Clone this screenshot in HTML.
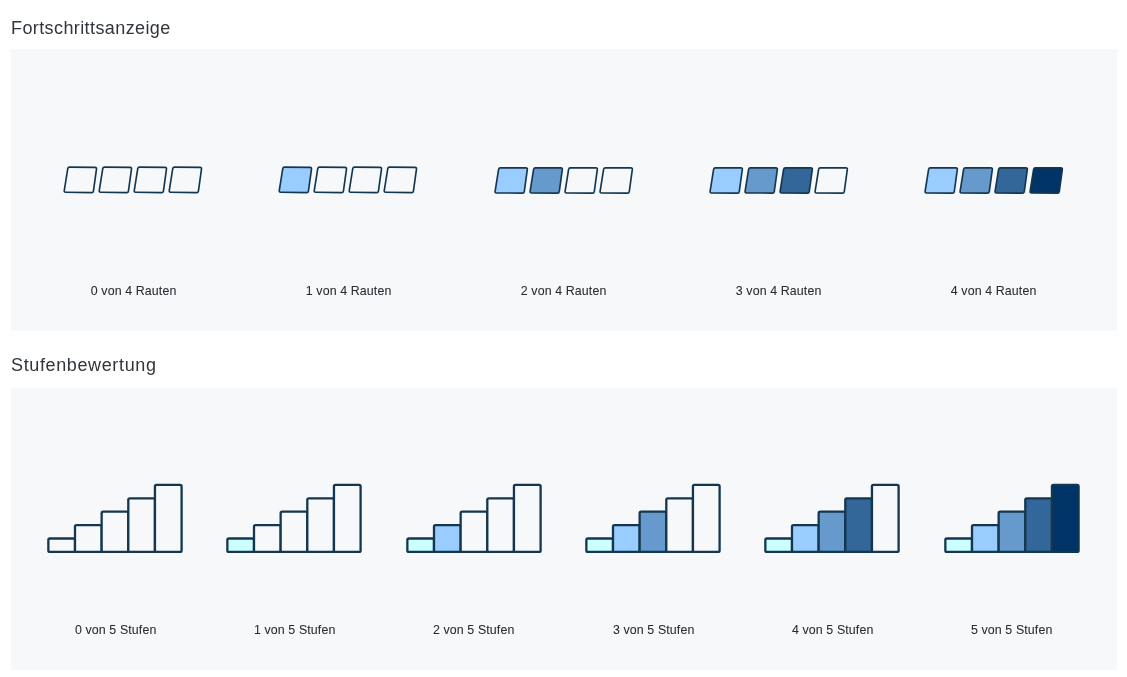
<!DOCTYPE html>
<html><head><meta charset="utf-8"><title>Ratings</title>
<style>
html,body{margin:0;padding:0;background:#fff;}
body{width:1127px;height:677px;position:relative;overflow:hidden;font-family:"Liberation Sans",sans-serif;color:#333a40;}
.panel{position:absolute;left:11px;width:1106px;height:282px;background:#f7f8fa;}
.h{position:absolute;left:11px;font-size:18px;line-height:22px;white-space:nowrap;color:#30363c;will-change:transform;}
.l{position:absolute;width:160px;text-align:center;font-size:12.4px;line-height:16px;white-space:nowrap;color:#262c32;-webkit-text-stroke:0.07px #262c32;letter-spacing:0.11px;will-change:transform;}
.l span{display:inline-block;transform-origin:50% 50%;}
svg{position:absolute;left:0;top:0;}
</style></head><body>

<div class="panel" style="top:49px"></div>
<div class="panel" style="top:388px"></div>
<div class="h" id="h1" style="top:16.65px;letter-spacing:0.4px">Fortschrittsanzeige</div>
<div class="h" id="h2" style="top:354.1px;left:10.8px;letter-spacing:0.63px">Stufenbewertung</div>
<svg width="1127" height="677" viewBox="0 0 1127 677">
<path d="M67.75 168.63 Q68.00 167.05 69.60 167.07 L95.10 167.43 Q96.70 167.45 96.48 169.03 L93.42 191.07 Q93.20 192.65 91.60 192.63 L65.60 192.22 Q64.00 192.20 64.25 190.62Z" fill="#f7f8fa" stroke="#14374f" stroke-width="1.65" stroke-linejoin="round"/>
<path d="M102.75 168.63 Q103.00 167.05 104.60 167.07 L130.10 167.43 Q131.70 167.45 131.48 169.03 L128.42 191.07 Q128.20 192.65 126.60 192.63 L100.60 192.22 Q99.00 192.20 99.25 190.62Z" fill="#f7f8fa" stroke="#14374f" stroke-width="1.65" stroke-linejoin="round"/>
<path d="M137.75 168.63 Q138.00 167.05 139.60 167.07 L165.10 167.43 Q166.70 167.45 166.48 169.03 L163.42 191.07 Q163.20 192.65 161.60 192.63 L135.60 192.22 Q134.00 192.20 134.25 190.62Z" fill="#f7f8fa" stroke="#14374f" stroke-width="1.65" stroke-linejoin="round"/>
<path d="M172.75 168.63 Q173.00 167.05 174.60 167.07 L200.10 167.43 Q201.70 167.45 201.48 169.03 L198.42 191.07 Q198.20 192.65 196.60 192.63 L170.60 192.22 Q169.00 192.20 169.25 190.62Z" fill="#f7f8fa" stroke="#14374f" stroke-width="1.65" stroke-linejoin="round"/>
<path d="M282.75 168.63 Q283.00 167.05 284.60 167.07 L310.10 167.43 Q311.70 167.45 311.48 169.03 L308.42 191.07 Q308.20 192.65 306.60 192.63 L280.60 192.22 Q279.00 192.20 279.25 190.62Z" fill="#99ccff" stroke="#14374f" stroke-width="1.65" stroke-linejoin="round"/>
<path d="M317.75 168.63 Q318.00 167.05 319.60 167.07 L345.10 167.43 Q346.70 167.45 346.48 169.03 L343.42 191.07 Q343.20 192.65 341.60 192.63 L315.60 192.22 Q314.00 192.20 314.25 190.62Z" fill="#f7f8fa" stroke="#14374f" stroke-width="1.65" stroke-linejoin="round"/>
<path d="M352.75 168.63 Q353.00 167.05 354.60 167.07 L380.10 167.43 Q381.70 167.45 381.48 169.03 L378.42 191.07 Q378.20 192.65 376.60 192.63 L350.60 192.22 Q349.00 192.20 349.25 190.62Z" fill="#f7f8fa" stroke="#14374f" stroke-width="1.65" stroke-linejoin="round"/>
<path d="M387.75 168.63 Q388.00 167.05 389.60 167.07 L415.10 167.43 Q416.70 167.45 416.48 169.03 L413.42 191.07 Q413.20 192.65 411.60 192.63 L385.60 192.22 Q384.00 192.20 384.25 190.62Z" fill="#f7f8fa" stroke="#14374f" stroke-width="1.65" stroke-linejoin="round"/>
<path d="M498.60 169.43 Q498.85 167.85 500.45 167.85 L525.95 167.90 Q527.55 167.90 527.33 169.48 L524.27 191.52 Q524.05 193.10 522.45 193.09 L496.45 192.96 Q494.85 192.95 495.10 191.37Z" fill="#99ccff" stroke="#14374f" stroke-width="1.65" stroke-linejoin="round"/>
<path d="M533.60 169.43 Q533.85 167.85 535.45 167.85 L560.95 167.90 Q562.55 167.90 562.33 169.48 L559.27 191.52 Q559.05 193.10 557.45 193.09 L531.45 192.96 Q529.85 192.95 530.10 191.37Z" fill="#6699cc" stroke="#14374f" stroke-width="1.65" stroke-linejoin="round"/>
<path d="M568.60 169.43 Q568.85 167.85 570.45 167.85 L595.95 167.90 Q597.55 167.90 597.33 169.48 L594.27 191.52 Q594.05 193.10 592.45 193.09 L566.45 192.96 Q564.85 192.95 565.10 191.37Z" fill="#f7f8fa" stroke="#14374f" stroke-width="1.65" stroke-linejoin="round"/>
<path d="M603.60 169.43 Q603.85 167.85 605.45 167.85 L630.95 167.90 Q632.55 167.90 632.33 169.48 L629.27 191.52 Q629.05 193.10 627.45 193.09 L601.45 192.96 Q599.85 192.95 600.10 191.37Z" fill="#f7f8fa" stroke="#14374f" stroke-width="1.65" stroke-linejoin="round"/>
<path d="M713.60 169.43 Q713.85 167.85 715.45 167.85 L740.95 167.90 Q742.55 167.90 742.33 169.48 L739.27 191.52 Q739.05 193.10 737.45 193.09 L711.45 192.96 Q709.85 192.95 710.10 191.37Z" fill="#99ccff" stroke="#14374f" stroke-width="1.65" stroke-linejoin="round"/>
<path d="M748.60 169.43 Q748.85 167.85 750.45 167.85 L775.95 167.90 Q777.55 167.90 777.33 169.48 L774.27 191.52 Q774.05 193.10 772.45 193.09 L746.45 192.96 Q744.85 192.95 745.10 191.37Z" fill="#6699cc" stroke="#14374f" stroke-width="1.65" stroke-linejoin="round"/>
<path d="M783.60 169.43 Q783.85 167.85 785.45 167.85 L810.95 167.90 Q812.55 167.90 812.33 169.48 L809.27 191.52 Q809.05 193.10 807.45 193.09 L781.45 192.96 Q779.85 192.95 780.10 191.37Z" fill="#336699" stroke="#14374f" stroke-width="1.65" stroke-linejoin="round"/>
<path d="M818.60 169.43 Q818.85 167.85 820.45 167.85 L845.95 167.90 Q847.55 167.90 847.33 169.48 L844.27 191.52 Q844.05 193.10 842.45 193.09 L816.45 192.96 Q814.85 192.95 815.10 191.37Z" fill="#f7f8fa" stroke="#14374f" stroke-width="1.65" stroke-linejoin="round"/>
<path d="M928.60 169.43 Q928.85 167.85 930.45 167.85 L955.95 167.90 Q957.55 167.90 957.33 169.48 L954.27 191.52 Q954.05 193.10 952.45 193.09 L926.45 192.96 Q924.85 192.95 925.10 191.37Z" fill="#99ccff" stroke="#14374f" stroke-width="1.65" stroke-linejoin="round"/>
<path d="M963.60 169.43 Q963.85 167.85 965.45 167.85 L990.95 167.90 Q992.55 167.90 992.33 169.48 L989.27 191.52 Q989.05 193.10 987.45 193.09 L961.45 192.96 Q959.85 192.95 960.10 191.37Z" fill="#6699cc" stroke="#14374f" stroke-width="1.65" stroke-linejoin="round"/>
<path d="M998.60 169.43 Q998.85 167.85 1000.45 167.85 L1025.95 167.90 Q1027.55 167.90 1027.33 169.48 L1024.27 191.52 Q1024.05 193.10 1022.45 193.09 L996.45 192.96 Q994.85 192.95 995.10 191.37Z" fill="#336699" stroke="#14374f" stroke-width="1.65" stroke-linejoin="round"/>
<path d="M1033.60 169.43 Q1033.85 167.85 1035.45 167.85 L1060.95 167.90 Q1062.55 167.90 1062.33 169.48 L1059.27 191.52 Q1059.05 193.10 1057.45 193.09 L1031.45 192.96 Q1029.85 192.95 1030.10 191.37Z" fill="#003366" stroke="#14374f" stroke-width="1.65" stroke-linejoin="round"/>
<rect x="48.35" y="538.50" width="26.65" height="13.40" rx="1.5" ry="1.5" fill="#f7f8fa" stroke="#14374f" stroke-width="2.30"/>
<rect x="75.00" y="525.10" width="26.65" height="26.80" rx="1.5" ry="1.5" fill="#f7f8fa" stroke="#14374f" stroke-width="2.30"/>
<rect x="101.65" y="511.70" width="26.65" height="40.20" rx="1.5" ry="1.5" fill="#f7f8fa" stroke="#14374f" stroke-width="2.30"/>
<rect x="128.30" y="498.30" width="26.65" height="53.60" rx="1.5" ry="1.5" fill="#f7f8fa" stroke="#14374f" stroke-width="2.30"/>
<rect x="154.95" y="484.90" width="26.65" height="67.00" rx="1.5" ry="1.5" fill="#f7f8fa" stroke="#14374f" stroke-width="2.30"/>
<rect x="227.35" y="538.50" width="26.65" height="13.40" rx="1.5" ry="1.5" fill="#ccffff" stroke="#14374f" stroke-width="2.30"/>
<rect x="254.00" y="525.10" width="26.65" height="26.80" rx="1.5" ry="1.5" fill="#f7f8fa" stroke="#14374f" stroke-width="2.30"/>
<rect x="280.65" y="511.70" width="26.65" height="40.20" rx="1.5" ry="1.5" fill="#f7f8fa" stroke="#14374f" stroke-width="2.30"/>
<rect x="307.30" y="498.30" width="26.65" height="53.60" rx="1.5" ry="1.5" fill="#f7f8fa" stroke="#14374f" stroke-width="2.30"/>
<rect x="333.95" y="484.90" width="26.65" height="67.00" rx="1.5" ry="1.5" fill="#f7f8fa" stroke="#14374f" stroke-width="2.30"/>
<rect x="407.35" y="538.50" width="26.65" height="13.40" rx="1.5" ry="1.5" fill="#ccffff" stroke="#14374f" stroke-width="2.30"/>
<rect x="434.00" y="525.10" width="26.65" height="26.80" rx="1.5" ry="1.5" fill="#99ccff" stroke="#14374f" stroke-width="2.30"/>
<rect x="460.65" y="511.70" width="26.65" height="40.20" rx="1.5" ry="1.5" fill="#f7f8fa" stroke="#14374f" stroke-width="2.30"/>
<rect x="487.30" y="498.30" width="26.65" height="53.60" rx="1.5" ry="1.5" fill="#f7f8fa" stroke="#14374f" stroke-width="2.30"/>
<rect x="513.95" y="484.90" width="26.65" height="67.00" rx="1.5" ry="1.5" fill="#f7f8fa" stroke="#14374f" stroke-width="2.30"/>
<rect x="586.35" y="538.50" width="26.65" height="13.40" rx="1.5" ry="1.5" fill="#ccffff" stroke="#14374f" stroke-width="2.30"/>
<rect x="613.00" y="525.10" width="26.65" height="26.80" rx="1.5" ry="1.5" fill="#99ccff" stroke="#14374f" stroke-width="2.30"/>
<rect x="639.65" y="511.70" width="26.65" height="40.20" rx="1.5" ry="1.5" fill="#6699cc" stroke="#14374f" stroke-width="2.30"/>
<rect x="666.30" y="498.30" width="26.65" height="53.60" rx="1.5" ry="1.5" fill="#f7f8fa" stroke="#14374f" stroke-width="2.30"/>
<rect x="692.95" y="484.90" width="26.65" height="67.00" rx="1.5" ry="1.5" fill="#f7f8fa" stroke="#14374f" stroke-width="2.30"/>
<rect x="765.35" y="538.50" width="26.65" height="13.40" rx="1.5" ry="1.5" fill="#ccffff" stroke="#14374f" stroke-width="2.30"/>
<rect x="792.00" y="525.10" width="26.65" height="26.80" rx="1.5" ry="1.5" fill="#99ccff" stroke="#14374f" stroke-width="2.30"/>
<rect x="818.65" y="511.70" width="26.65" height="40.20" rx="1.5" ry="1.5" fill="#6699cc" stroke="#14374f" stroke-width="2.30"/>
<rect x="845.30" y="498.30" width="26.65" height="53.60" rx="1.5" ry="1.5" fill="#336699" stroke="#14374f" stroke-width="2.30"/>
<rect x="871.95" y="484.90" width="26.65" height="67.00" rx="1.5" ry="1.5" fill="#f7f8fa" stroke="#14374f" stroke-width="2.30"/>
<rect x="945.35" y="538.50" width="26.65" height="13.40" rx="1.5" ry="1.5" fill="#ccffff" stroke="#14374f" stroke-width="2.30"/>
<rect x="972.00" y="525.10" width="26.65" height="26.80" rx="1.5" ry="1.5" fill="#99ccff" stroke="#14374f" stroke-width="2.30"/>
<rect x="998.65" y="511.70" width="26.65" height="40.20" rx="1.5" ry="1.5" fill="#6699cc" stroke="#14374f" stroke-width="2.30"/>
<rect x="1025.30" y="498.30" width="26.65" height="53.60" rx="1.5" ry="1.5" fill="#336699" stroke="#14374f" stroke-width="2.30"/>
<rect x="1051.95" y="484.90" width="26.65" height="67.00" rx="1.5" ry="1.5" fill="#003366" stroke="#14374f" stroke-width="2.30"/>
</svg>
<div class="l" style="left:25.50px;width:215.2px;top:283px"><span>0 von 4 Rauten</span></div>
<div class="l" style="left:240.70px;width:215.2px;top:283px"><span>1 von 4 Rauten</span></div>
<div class="l" style="left:455.90px;width:215.2px;top:283px"><span>2 von 4 Rauten</span></div>
<div class="l" style="left:671.10px;width:215.2px;top:283px"><span>3 von 4 Rauten</span></div>
<div class="l" style="left:886.30px;width:215.2px;top:283px"><span>4 von 4 Rauten</span></div>
<div class="l" style="left:25.50px;width:179.33px;top:622px"><span>0 von 5 Stufen</span></div>
<div class="l" style="left:204.83px;width:179.33px;top:622px"><span>1 von 5 Stufen</span></div>
<div class="l" style="left:384.17px;width:179.33px;top:622px"><span>2 von 5 Stufen</span></div>
<div class="l" style="left:563.50px;width:179.33px;top:622px"><span>3 von 5 Stufen</span></div>
<div class="l" style="left:742.83px;width:179.33px;top:622px"><span>4 von 5 Stufen</span></div>
<div class="l" style="left:922.16px;width:179.33px;top:622px"><span>5 von 5 Stufen</span></div>
</body></html>
